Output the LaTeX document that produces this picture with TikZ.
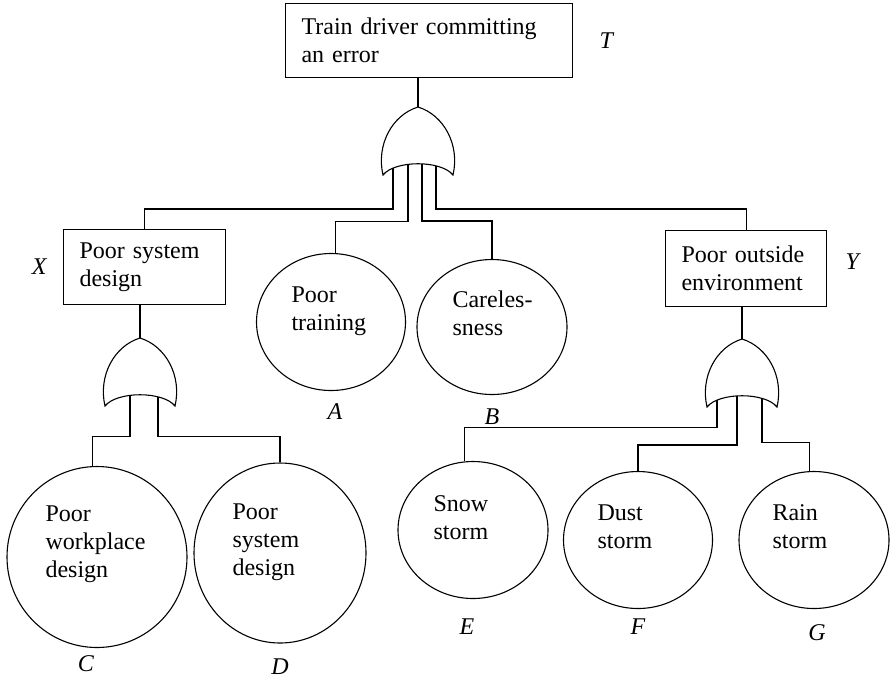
\documentclass[tikz,border=0pt]{standalone}
\usepackage{fontspec}
\setmainfont{Liberation Serif}
\usetikzlibrary{positioning,shapes.geometric}

\tikzset{
  orgate/.pic={
    \draw (0,0) .. controls (-26,8) and (-42,38) .. (-35,68)
      .. controls (-23,53) and (23,53) .. (35,68)
      .. controls (42,38) and (26,8) .. cycle;
    \coordinate (-top) at (0,0);
    \coordinate (-i1) at (-25,61);
    \coordinate (-i2) at (-10,57.3);
    \coordinate (-i3) at (-5,56.9);
    \coordinate (-i4) at (4,56.9);
    \coordinate (-i5) at (18,58.9);
    \coordinate (-i6) at (20,59.4);
  }
}

\begin{document}
\begin{tikzpicture}[x=1pt, y=-1pt, line width=1.1pt,
    font=\fontsize{24}{28}\selectfont,
    evbox/.style={draw, rectangle, align=left, inner xsep=16pt, anchor=north west},
    event/.style={draw, ellipse, inner sep=0pt},
    evtext/.style={align=left, inner sep=0pt, anchor=base west},
    tag/.style={inner sep=0pt, font=\fontsize{24}{28}\selectfont\itshape}
  ]
  \useasboundingbox (0,0) rectangle (890,681);

  % intermediate events
  \node[evbox, text width=255, minimum height=74] (top) at (285,3) {Train driver committing\\an error};
  \node[evbox, text width=130, minimum height=75] (xbox) at (63,229) {Poor system\\design};
  \node[evbox, text width=129, minimum height=76] (ybox) at (665,230) {Poor outside\\environment};

  \node[tag, right=26pt of top] (t-tag) {T};
  \node[tag, left=16pt of xbox] (x-tag) {X};
  \node[tag, right=18pt of ybox, yshift=7pt] (y-tag) {Y};

  % gates
  \pic (g1) at (418,107) {orgate};
  \pic (gx) at (140,338) {orgate};
  \pic (gy) at (742,339) {orgate};

  % basic events
  \node[event, minimum width=149, minimum height=137] (a) at (331,322) {};
  \node[event, minimum width=150, minimum height=135] (b) at (492,327) {};
  \node[event, minimum width=180, minimum height=181] (c) at (97,557) {};
  \node[event, minimum width=172, minimum height=180] (d) at (280,553) {};
  \node[event, minimum width=150, minimum height=137] (e) at (473,530) {};
  \node[event, minimum width=149, minimum height=137] (f) at (638,540) {};
  \node[event, minimum width=150, minimum height=137] (g) at (814,540) {};

  % texts, placed by their last baseline
  \node[evtext] (a-txt) at (291,330) {Poor\\training};
  \node[evtext] (b-txt) at (452,335) {Careles-\\sness};
  \node[evtext] (c-txt) at (45,577) {Poor\\workplace\\design};
  \node[evtext] (d-txt) at (232,575) {Poor\\system\\design};
  \node[evtext] (e-txt) at (433,539) {Snow\\storm};
  \node[evtext] (f-txt) at (597,548) {Dust\\storm};
  \node[evtext] (g-txt) at (772,548) {Rain\\storm};

  \node[tag, below=12pt of a, xshift=4pt] (a-tag) {A};
  \node[tag, below=13pt of b] (b-tag) {B};
  \node[tag, below=7pt of c, xshift=-11pt] (c-tag) {C};
  \node[tag, below=15pt of d] (d-tag) {D};
  \node[tag, below=19pt of e, xshift=-6pt] (e-tag) {E};
  \node[tag, below=9pt of f] (f-tag) {F};
  \node[tag, below=15pt of g, xshift=3pt] (g-tag) {G};

  % connectors
  \draw (top.south -| g1-top) -- (g1-top);
  \draw (g1-i1) |- ([yshift=20pt]xbox.north) -- (xbox.north);
  \draw (g1-i2) |- ([yshift=32pt]a.86) -- (a.86);
  \draw (g1-i4) |- ([yshift=38pt]b.north) -- (b.north);
  \draw (g1-i5) |- ([yshift=21pt]ybox.north) -- (ybox.north);

  \draw (xbox.south -| gx-top) -- (gx-top);
  \draw (gx-i2) |- ([yshift=30pt]c.93) -- (c.93);
  \draw (gx-i5) |- ([yshift=26pt]d.north) -- (d.north);

  \draw (ybox.south -| gy-top) -- (gy-top);
  \draw (gy-i1) |- ([yshift=34pt]e.97) -- (e.97);
  \draw (gy-i3) |- ([yshift=26pt]f.north) -- (f.north);
  \draw (gy-i6) |- ([yshift=29pt]g.94) -- (g.94);
\end{tikzpicture}
\end{document}
